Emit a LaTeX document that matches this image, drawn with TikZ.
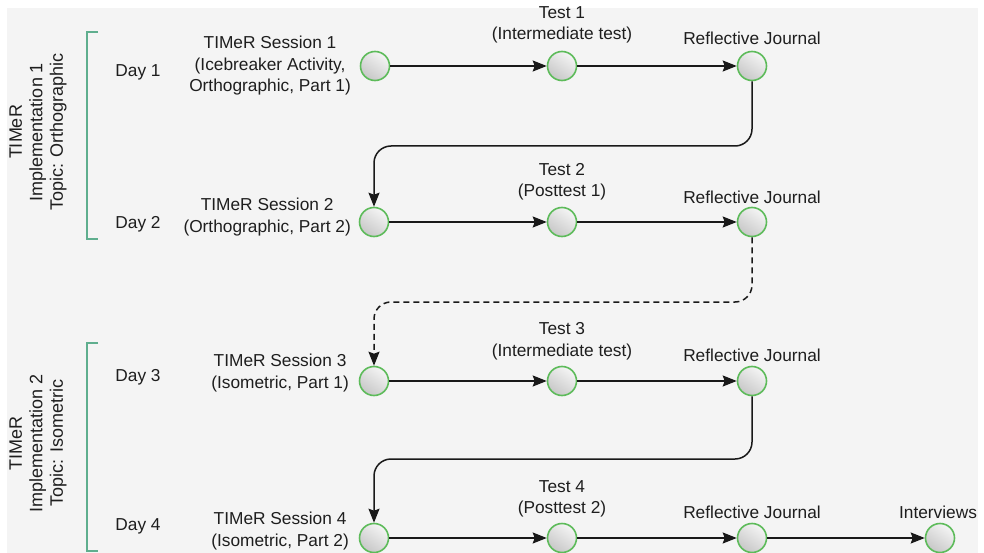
\documentclass[tikz,border=0pt]{standalone}
\usepackage{fontspec}
\setmainfont{Liberation Sans}
\usetikzlibrary{arrows.meta}
\definecolor{bgpanel}{HTML}{F4F4F4}
\definecolor{ringgreen}{HTML}{5DBB5A}
\definecolor{brackgreen}{HTML}{5FAE8E}
\definecolor{inkgrey}{HTML}{1E1E1E}
\tikzset{
  x=1pt, y=-1pt,
  stage/.style={circle, minimum size=29pt, inner sep=0pt, draw=ringgreen, line width=1.6pt,
    top color=white!96!black, bottom color=black!22, shading angle=-35},
  lbl/.style={font=\fontsize{17.3}{21.5}\selectfont, text=inkgrey, align=center, inner sep=0pt},
  sidelbl/.style={lbl, rotate=90, font=\fontsize{18}{20.5}\selectfont},
  flow/.style={draw=black!90, line width=1.5pt, -{Stealth[length=14pt,width=11pt,inset=2pt]}},
  linkline/.style={flow, rounded corners=17pt},
  bracket/.style={draw=brackgreen, line width=1.3pt},
}
\begin{document}
\begin{tikzpicture}
\useasboundingbox (0,0) rectangle (984,553);
\fill[bgpanel] (7,8) rectangle (978,553);

% side brackets and implementation titles
\draw[bracket] (98,32) -- (87,32) -- (87,239) -- (98,239);
\draw[bracket] (98,343) -- (87,343) -- (87,551) -- (98,551);
\node[sidelbl] (impA) at (38,132) {TIMeR\\Implementation 1\\Topic: Orthographic};
\node[sidelbl] (impB) at (38,443) {TIMeR\\Implementation 2\\Topic: Isometric};

% day labels
\node[lbl] (d1) at (138,72) {Day 1};
\node[lbl] (d2) at (138,224) {Day 2};
\node[lbl] (d3) at (138,377) {Day 3};
\node[lbl] (d4) at (138,526) {Day 4};

% stage circles
\node[stage] (s1) at (375,66) {};
\node[stage] (t1) at (562,66) {};
\node[stage] (j1) at (752,66) {};
\node[stage] (s2) at (374,222) {};
\node[stage] (t2) at (562,222) {};
\node[stage] (j2) at (752,222) {};
\node[stage] (s3) at (374,381) {};
\node[stage] (t3) at (562,381) {};
\node[stage] (j3) at (752,381) {};
\node[stage] (s4) at (374,538) {};
\node[stage] (t4) at (562,538) {};
\node[stage] (j4) at (752,538) {};
\node[stage] (iv) at (940,538) {};

% session labels
\node[lbl, anchor=east] (ls1) at (351,66) {TIMeR Session 1\\(Icebreaker Activity,\\Orthographic, Part 1)};
\node[lbl, anchor=east] (ls2) at (351,217) {TIMeR Session 2\\(Orthographic, Part 2)};
\node[lbl, anchor=east] (ls3) at (349,373) {TIMeR Session 3\\(Isometric, Part 1)};
\node[lbl, anchor=east] (ls4) at (349,531) {TIMeR Session 4\\(Isometric, Part 2)};

% test labels
\node[lbl] (lt1) at (562,25) {Test 1\\(Intermediate test)};
\node[lbl] (lt2) at (562,182) {Test 2\\(Posttest 1)};
\node[lbl] (lt3) at (562,341) {Test 3\\(Intermediate test)};
\node[lbl] (lt4) at (562,499) {Test 4\\(Posttest 2)};

% journal and interview labels
\node[lbl] (lj1) at (752,38) {Reflective Journal};
\node[lbl] (lj2) at (752,197) {Reflective Journal};
\node[lbl] (lj3) at (752,355) {Reflective Journal};
\node[lbl] (lj4) at (752,512) {Reflective Journal};
\node[lbl] (liv) at (938,512) {Interviews};

% within-day flow
\draw[flow] (s1) -- (t1);
\draw[flow] (t1) -- (j1);
\draw[flow] (s2) -- (t2);
\draw[flow] (t2) -- (j2);
\draw[flow] (s3) -- (t3);
\draw[flow] (t3) -- (j3);
\draw[flow] (s4) -- (t4);
\draw[flow] (t4) -- (j4);
\draw[flow] (j4) -- (iv);

% links between days
\coordinate (m1) at (560,146);
\coordinate (m2) at (560,302);
\coordinate (m3) at (560,459);
\draw[linkline] (j1.south) |- (m1) -| (s2.north);
\draw[linkline, dash pattern=on 6pt off 4pt] (j2.south) |- (m2) -| (s3.north);
\draw[linkline] (j3.south) |- (m3) -| (s4.north);
\end{tikzpicture}
\end{document}
